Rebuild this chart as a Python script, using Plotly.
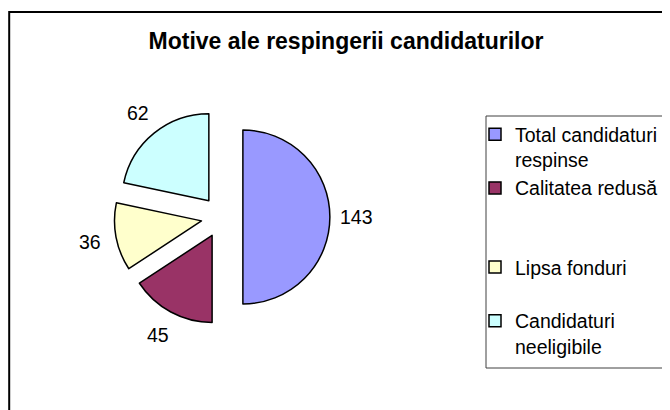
import math
import plotly.graph_objects as go

# Data
categories = ["Total candidaturi respinse", "Calitatea redusă", "Lipsa fonduri", "Candidaturi neeligibile"]
values = [143, 45, 36, 62]
# legend display names (line breaks mimic the wrapped legend of the original)
legend_names = ["Total candidaturi<br>respinse", "Calitatea redusă<br> <br> ", "Lipsa fonduri<br> ", "Candidaturi<br>neeligibile"]
colors = ["#9999FF", "#993366", "#FFFFCC", "#CCFFFF"]
title_text = "Motive ale respingerii candidaturilor"

W, H = 670, 410
OX, OY = 8, 8          # page offset of the plot div (default body margin)
FONT = "Liberation Sans, Arial, sans-serif"

def px(x):
    return (x - OX) / W

def py(y):
    return 1 - (y - OY) / H

# pie geometry (page pixels)
cx, cy = 222, 217
r = 87
pull = 0.24
half = r * (1 + pull)
label_r = 134  # distance of the data labels from the pie centre

fig = go.Figure(go.Pie(
    labels=legend_names,
    values=values,
    sort=False,
    direction="clockwise",
    rotation=0,
    pull=[pull] * len(values),
    marker=dict(colors=colors, line=dict(color="black", width=1.5)),
    textinfo="none",
    domain=dict(x=[px(cx - half), px(cx + half)],
                y=[py(cy + half), py(cy - half)]),
    hoverinfo="skip",
))

# data labels placed along each slice's bisector (computed from the values)
total = sum(values)
annotations = []
cum = 0
for v in values:
    theta = (cum + v / 2) / total * 2 * math.pi
    cum += v
    lx = cx + label_r * math.sin(theta)
    ly = cy - label_r * math.cos(theta)
    annotations.append(dict(x=px(lx), y=py(ly), xref="paper", yref="paper",
                            text=str(v), showarrow=False,
                            xanchor="center", yanchor="middle",
                            font=dict(family=FONT, size=19.5, color="black")))

fig.update_layout(
    width=W, height=H,
    margin=dict(l=0, r=0, t=0, b=0),
    paper_bgcolor="white",
    plot_bgcolor="white",
    font=dict(family=FONT, color="black"),
    title=dict(text="<b>" + title_text + "</b>", x=px(346), xanchor="center",
               y=py(41), yanchor="middle",
               font=dict(family=FONT, size=23, color="black")),
    showlegend=True,
    legend=dict(x=px(475), xanchor="left", y=py(115), yanchor="top",
                valign="top", font=dict(family=FONT, size=19.5, color="black"),
                bgcolor="rgba(0,0,0,0)", borderwidth=0, itemclick=False),
    annotations=annotations,
    shapes=[
        # outer chart border (left edge kept just inside the drawing area)
        dict(type="rect", xref="paper", yref="paper",
             x0=1.2 / W, x1=1.1, y0=-0.1, y1=py(12),
             line=dict(color="black", width=2), fillcolor="rgba(0,0,0,0)"),
        # legend frame
        dict(type="rect", xref="paper", yref="paper",
             x0=px(486), x1=1.1, y0=py(368), y1=py(116),
             line=dict(color="#404040", width=1), fillcolor="rgba(0,0,0,0)"),
    ],
)

fig.write_html("out.html")
